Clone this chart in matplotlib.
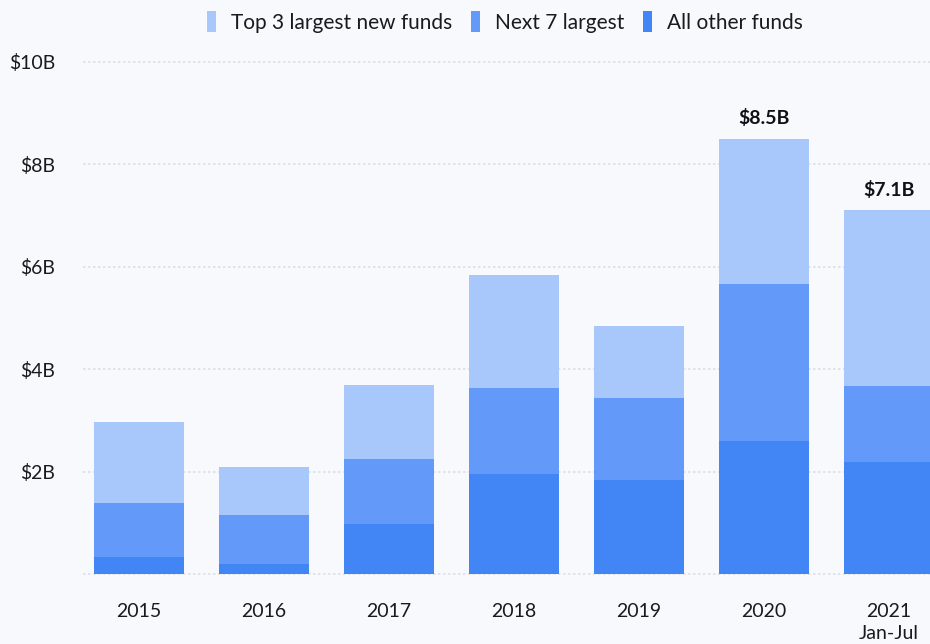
import matplotlib
matplotlib.use("Agg")
import matplotlib.pyplot as plt
import numpy as np

years = ["2015", "2016", "2017", "2018", "2019", "2020", "2021\nJan-Jul"]
other_funds = [0.34, 0.21, 0.98, 1.96, 1.84, 2.60, 2.19]
next7 = [1.06, 0.95, 1.26, 1.67, 1.60, 3.06, 1.48]
top3 = [1.58, 0.93, 1.45, 2.20, 1.40, 2.84, 3.43]
totals = [2.98, 2.09, 3.69, 5.83, 4.84, 8.5, 7.1]
labelled = {5: "$8.5B", 6: "$7.1B"}

bg = "#f8f9fd"
c_top = "#a8c7fb"
c_mid = "#6399f8"
c_low = "#4285f4"

plt.rcParams["font.family"] = ["Lato", "DejaVu Sans"]

fig = plt.figure(figsize=(9.3, 6.44), dpi=100, facecolor=bg)
ax = fig.add_axes([83 / 930, 69.7 / 644, 847 / 930, 512.6 / 644])
ax.set_facecolor(bg)

x = np.arange(len(years))
w = 0.72
ax.bar(x, other_funds, w, color=c_low, label="All other funds", zorder=3)
ax.bar(x, next7, w, bottom=other_funds, color=c_mid, label="Next 7 largest", zorder=3)
base = np.array(other_funds) + np.array(next7)
ax.bar(x, top3, w, bottom=base, color=c_top, label="Top 3 largest new funds", zorder=3)

for i, txt in labelled.items():
    ax.text(x[i], totals[i] + 0.22, txt, ha="center", va="bottom",
            fontsize=14, fontweight="bold", color="#111111")

ax.set_xlim(-0.448, 6.328)
ax.set_ylim(0, 10)
ax.set_yticks([2, 4, 6, 8, 10])
ax.set_yticklabels(["$2B", "$4B", "$6B", "$8B", "$10B"])
ax.set_xticks(x)
ax.set_xticklabels(years, linespacing=1.3)
ax.tick_params(axis="y", length=0, pad=20, labelsize=14, labelcolor="#1a1a1a")
ax.tick_params(axis="x", length=0, pad=21, labelsize=14, labelcolor="#1a1a1a")

for v in [0, 2, 4, 6, 8, 10]:
    ax.axhline(v, color="#dcdfe6", linestyle=(0, (1.5, 1.5)), linewidth=1.2,
               zorder=1, clip_on=False)

for s in ax.spines.values():
    s.set_visible(False)

h, l = ax.get_legend_handles_labels()
leg = fig.legend(h[::-1], l[::-1], loc="center", bbox_to_anchor=(0.543, 0.966),
                 ncol=3, frameon=False, fontsize=15, handlelength=0.45,
                 handleheight=1.2, handletextpad=0.7, columnspacing=0.9)
for t in leg.get_texts():
    t.set_color("#1a1a1a")

fig.savefig("out.png", dpi=100, facecolor=bg)
